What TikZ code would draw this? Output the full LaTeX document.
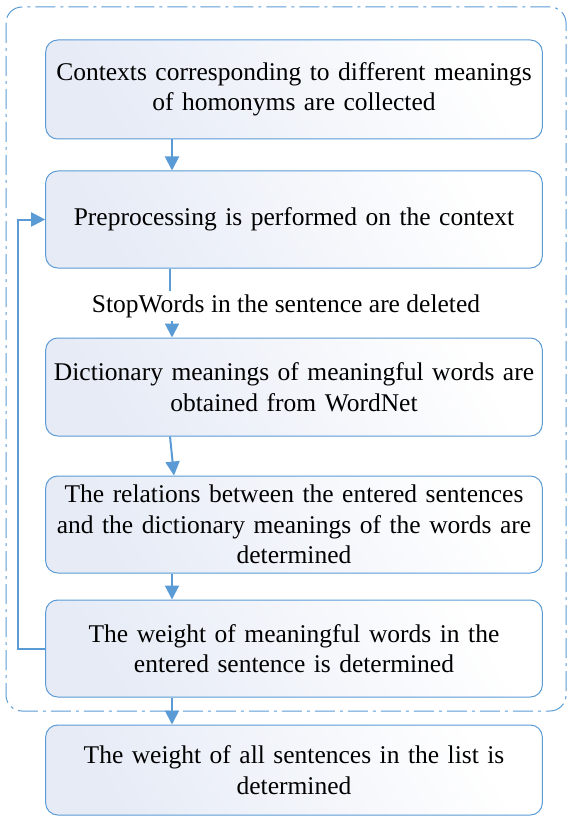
\documentclass[tikz,border=0pt]{standalone}
\usepackage{fontspec}
\setmainfont{Liberation Serif}
\usetikzlibrary{arrows.meta,calc}

\definecolor{flowblue}{RGB}{91,155,213}
\definecolor{boxtint}{RGB}{230,235,246}

\begin{document}
\begin{tikzpicture}[x=1pt,y=-1pt,
    stepbox/.style={rectangle, draw=flowblue, line width=1pt, rounded corners=12pt, minimum width=494pt, text width=490pt, align=center, left color=boxtint, right color=white, shading angle=120, font=\fontsize{25.5}{30.5}\selectfont},
    arrow/.style={-{Triangle[width=14pt,length=14pt]}, draw=flowblue, line width=2pt},
    link/.style={draw=flowblue, line width=2pt},
    frame/.style={draw=flowblue, line width=1pt, rounded corners=16pt, dash pattern=on 20pt off 5pt on 3pt off 5pt}
]
\useasboundingbox (0,0) rectangle (569,821);

% Outer loop frame
\draw[frame] (6,7) rectangle (566,711);

% Steps
\node[stepbox, minimum height=99pt] (collect) at (294,89.5) {Contexts corresponding to different meanings\\of homonyms are collected};
\node[stepbox, minimum height=97pt] (prep) at (294,219.5) {Preprocessing is performed on the context};
\node[font=\fontsize{25.5}{30.5}\selectfont] (stop) at (286,306) {StopWords in the sentence are deleted};
\node[stepbox, minimum height=98pt] (dict) at (294,387) {Dictionary meanings of meaningful words are\\obtained from WordNet};
\node[stepbox, minimum height=97pt] (rel) at (294,524.5) {The relations between the entered sentences\\and the dictionary meanings of the words are\\determined};
\node[stepbox, minimum height=97pt] (weight) at (294,648.5) {The weight of meaningful words in the\\entered sentence is determined};
\node[stepbox, minimum height=90pt] (all) at (294,770) {The weight of all sentences in the list is\\determined};

% Connections
\draw[arrow] ([xshift=-122pt]collect.south) -- ([xshift=-122pt]prep.north);
\draw[link] ([xshift=-124pt]prep.south) -- ([xshift=-124pt]stop.north -| prep.south);
\draw[arrow] ([xshift=-122pt]stop.south -| prep.south) -- ([xshift=-122pt]dict.north);
\draw[arrow] ([xshift=-124pt]dict.south) -- ([xshift=-120pt]rel.north);
\draw[arrow] ([xshift=-122pt]rel.south) -- ([xshift=-122pt]weight.north);
\draw[arrow] ([xshift=-122pt]weight.south) -- ([xshift=-122pt]all.north);

% Feedback loop
\draw[arrow] (weight.west) -- ++(-27,0) |- (prep.west);

\end{tikzpicture}
\end{document}
